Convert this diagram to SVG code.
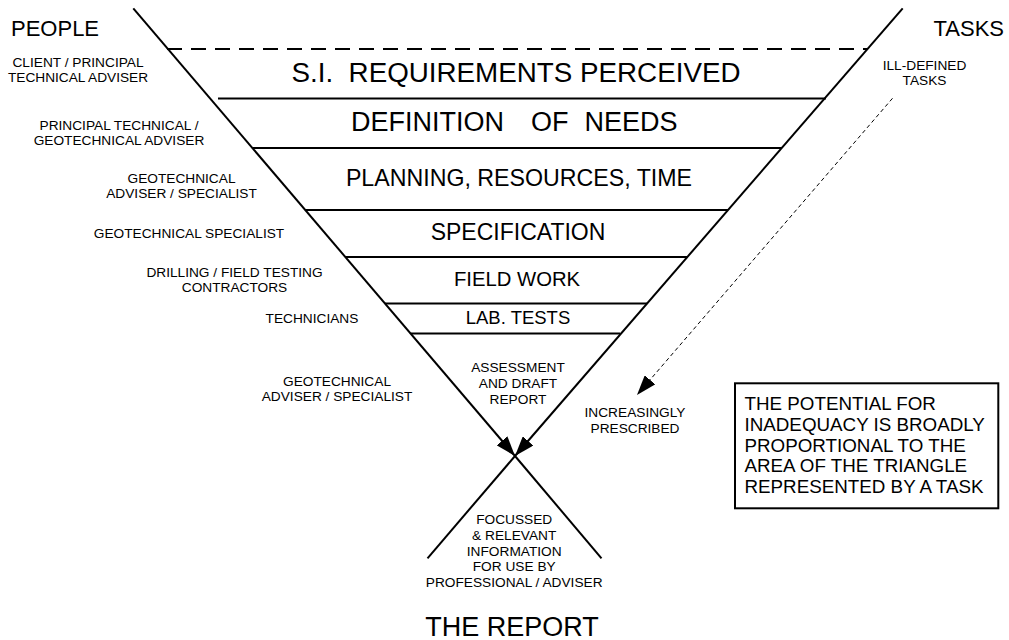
<svg xmlns="http://www.w3.org/2000/svg" width="1009" height="640" viewBox="0 0 1009 640">
<defs>
<style>
text{font-family:"Liberation Sans",Arial,sans-serif;fill:#000}
.sm{font-size:13.7px;text-anchor:middle}
.mid{text-anchor:middle}
.band{stroke:#000;stroke-width:2}
.diag{stroke:#000;stroke-width:2;fill:none}
.box{fill:#fff;stroke:#000;stroke-width:2}
.note{font-size:18.8px}
</style>
<marker id="ah" markerUnits="userSpaceOnUse" viewBox="0 0 20 14" markerWidth="20" markerHeight="14" refX="20" refY="7" orient="auto">
<path d="M0,0 L20,7 L0,14 Z" fill="#000"/>
</marker>
</defs>
<rect width="1009" height="640" fill="#fff"/>

<g id="headings">
<text x="11" y="36" font-size="22">PEOPLE</text>
<text x="1004" y="36" font-size="22" text-anchor="end">TASKS</text>
</g>

<g id="connectors">
<line class="diag" x1="133.3" y1="8.3" x2="515" y2="456" marker-end="url(#ah)"/>
<line class="diag" x1="902.7" y1="8.3" x2="515" y2="456" marker-end="url(#ah)"/>
<line class="diag" x1="515" y1="456" x2="601.5" y2="558.3"/>
<line class="diag" x1="515" y1="456" x2="427.5" y2="558.3"/>
<line x1="892.5" y1="98.3" x2="637" y2="395" stroke="#000" stroke-width="1" stroke-dasharray="4 3" marker-end="url(#ah)"/>
</g>

<g id="band-si">
<line x1="167" y1="49" x2="867" y2="49" stroke="#000" stroke-width="2" stroke-dasharray="15 9"/>
<text x="516" y="82" font-size="27" class="mid" xml:space="preserve" textLength="449" lengthAdjust="spacingAndGlyphs">S.I.  REQUIREMENTS PERCEIVED</text>
</g>
<g id="band-needs">
<line class="band" x1="218" y1="98.5" x2="826" y2="98.5"/>
<text y="131" font-size="27"><tspan x="351">DEFINITION</tspan><tspan x="531">OF</tspan><tspan x="584.5">NEEDS</tspan></text>
</g>
<g id="band-planning">
<line class="band" x1="253" y1="148" x2="782" y2="148"/>
<text x="519" y="186" font-size="23.2" class="mid">PLANNING, RESOURCES, TIME</text>
</g>
<g id="band-spec">
<line class="band" x1="305" y1="210" x2="728" y2="210"/>
<text x="518" y="240" font-size="23" class="mid">SPECIFICATION</text>
</g>
<g id="band-field">
<line class="band" x1="345" y1="257" x2="688" y2="257"/>
<text x="517" y="286" font-size="20.3" class="mid">FIELD WORK</text>
</g>
<g id="band-lab">
<line class="band" x1="385" y1="303.5" x2="647" y2="303.5"/>
<text x="518" y="324" font-size="18.5" class="mid">LAB. TESTS</text>
</g>
<g id="band-assess">
<line class="band" x1="411" y1="333.5" x2="620" y2="333.5"/>
<text class="sm"><tspan x="518" y="371.7">ASSESSMENT</tspan><tspan x="518" y="388.2">AND DRAFT</tspan><tspan x="518" y="404.3">REPORT</tspan></text>
</g>

<g id="people-1"><text class="sm"><tspan x="78" y="66.7">CLIENT / PRINCIPAL</tspan><tspan x="78" y="82.3">TECHNICAL ADVISER</tspan></text></g>
<g id="people-2"><text class="sm"><tspan x="119" y="130">PRINCIPAL TECHNICAL /</tspan><tspan x="119" y="144.5">GEOTECHNICAL ADVISER</tspan></text></g>
<g id="people-3"><text class="sm"><tspan x="181.5" y="182.7">GEOTECHNICAL</tspan><tspan x="181.5" y="198.3">ADVISER / SPECIALIST</tspan></text></g>
<g id="people-4"><text class="sm"><tspan x="189" y="238.3">GEOTECHNICAL SPECIALIST</tspan></text></g>
<g id="people-5"><text class="sm"><tspan x="234.5" y="276.7">DRILLING / FIELD TESTING</tspan><tspan x="234.5" y="292.3">CONTRACTORS</tspan></text></g>
<g id="people-6"><text class="sm"><tspan x="312" y="322.7">TECHNICIANS</tspan></text></g>
<g id="people-7"><text class="sm"><tspan x="337" y="386">GEOTECHNICAL</tspan><tspan x="337" y="401">ADVISER / SPECIALIST</tspan></text></g>

<g id="task-ill"><text class="sm"><tspan x="924.5" y="70">ILL-DEFINED</tspan><tspan x="924.5" y="85">TASKS</tspan></text></g>
<g id="task-presc"><text class="sm"><tspan x="635" y="417.3">INCREASINGLY</tspan><tspan x="635" y="432.7">PRESCRIBED</tspan></text></g>

<g id="output-info"><text class="sm"><tspan x="514.2" y="524">FOCUSSED</tspan><tspan x="514.2" y="540">&amp; RELEVANT</tspan><tspan x="514.2" y="555.7">INFORMATION</tspan><tspan x="514.2" y="571.3">FOR USE BY</tspan><tspan x="514.2" y="587.3">PROFESSIONAL / ADVISER</tspan></text></g>
<g id="the-report"><text x="512" y="636" font-size="27" class="mid">THE REPORT</text></g>

<g id="note-box">
<rect class="box" x="735" y="383.3" width="263.3" height="125"/>
<text class="note"><tspan x="744.5" y="410">THE POTENTIAL FOR</tspan><tspan x="744.5" y="430.8">INADEQUACY IS BROADLY</tspan><tspan x="744.5" y="451.6">PROPORTIONAL TO THE</tspan><tspan x="744.5" y="472.4">AREA OF THE TRIANGLE</tspan><tspan x="744.5" y="493.2">REPRESENTED BY A TASK</tspan></text>
</g>
</svg>
